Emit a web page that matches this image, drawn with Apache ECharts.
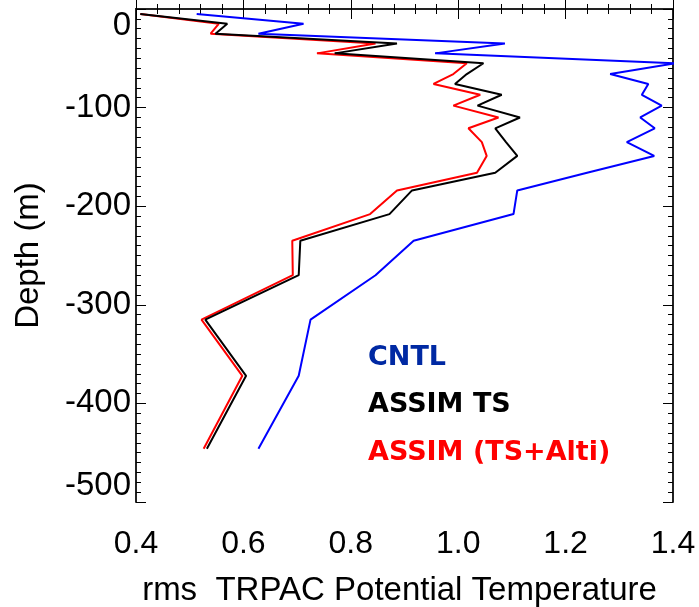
<!DOCTYPE html>
<html>
<head>
<meta charset="utf-8">
<script src="https://cdn.jsdelivr.net/npm/echarts@6/dist/echarts.min.js"></script>
<style>
  html, body { margin: 0; padding: 0; background: #fff; }
  #chart { width: 699px; height: 607px; }
</style>
</head>
<body>
<div id="chart"></div>
<script>
// depth levels (m), shared by the three profiles
var depths = [-5, -15, -25, -35, -45, -55, -66, -76, -87, -98, -110, -121, -135, -149, -166, -184, -208, -235, -270, -315, -372, -446];

// rms potential temperature error for each run
var cntl = [0.513, 0.712, 0.628, 1.087, 0.957, 1.404, 1.283, 1.354, 1.342, 1.379, 1.339, 1.366, 1.314, 1.365, 1.24, 1.11, 1.103, 0.917, 0.846, 0.725, 0.703, 0.628];
var assimTS = [0.408, 0.570, 0.548, 0.886, 0.77, 1.047, 1.016, 0.994, 1.081, 1.036, 1.115, 1.069, 1.089, 1.110, 1.069, 0.914, 0.872, 0.706, 0.703, 0.529, 0.605, 0.532];
var assimAlti = [0.408, 0.554, 0.539, 0.846, 0.737, 1.016, 0.991, 0.954, 1.041, 0.991, 1.075, 1.019, 1.044, 1.053, 1.035, 0.886, 0.836, 0.691, 0.692, 0.522, 0.598, 0.526];

var seriesNames = ["CNTL", "ASSIM TS", "ASSIM (TS+Alti)"];
var lineColors = ["#0000ff", "#000000", "#ff0000"];
var labelColors = ["#0029a3", "#000000", "#ff0000"];

function pairs(vals) {
  return vals.map(function (v, i) { return [v, depths[i]]; });
}

var chart = echarts.init(document.getElementById("chart"));

var axisFont = "'Liberation Sans', Arial, sans-serif";
var tickStyle = { show: true, inside: true, length: 10, lineStyle: { color: "#000", width: 1 } };
var minorStyle = { show: true, length: 5, lineStyle: { color: "#000", width: 1 } };

chart.setOption({
  animation: false,
  backgroundColor: "#fff",
  grid: { left: 136, right: 26, top: 9, bottom: 105, containLabel: false, outerBoundsMode: "none" },
  xAxis: [
    {
      type: "value",
      min: 0.4,
      max: 1.4,
      interval: 0.2,
      position: "bottom",
      name: "rms  TRPAC Potential Temperature",
      nameLocation: "middle",
      nameGap: 72,
      nameTextStyle: { fontFamily: axisFont, fontSize: 33, color: "#000", padding: [0, 10, 0, 0] },
      axisLine: { lineStyle: { color: "#222", width: 2 } },
      axisTick: tickStyle,
      minorTick: Object.assign({ splitNumber: 5 }, minorStyle),
      splitLine: { show: false },
      axisLabel: {
        fontFamily: axisFont,
        fontSize: 32,
        color: "#000",
        margin: 26,
        formatter: function (v) { return v.toFixed(1); }
      }
    },
    {
      type: "value",
      min: 0.4,
      max: 1.4,
      interval: 0.2,
      position: "top",
      axisLine: { lineStyle: { color: "#222", width: 2 } },
      axisTick: tickStyle,
      minorTick: Object.assign({ splitNumber: 5 }, minorStyle),
      splitLine: { show: false },
      axisLabel: { show: false }
    }
  ],
  yAxis: [
    {
      type: "value",
      min: -500,
      max: 0,
      interval: 100,
      position: "left",
      name: "Depth (m)",
      nameLocation: "middle",
      nameRotate: 90,
      nameGap: 91,
      nameTextStyle: { fontFamily: axisFont, fontSize: 33, color: "#000" },
      axisLine: { lineStyle: { color: "#222", width: 2 } },
      axisTick: tickStyle,
      minorTick: Object.assign({ splitNumber: 10 }, minorStyle),
      splitLine: { show: false },
      axisLabel: {
        fontFamily: axisFont,
        fontSize: 33,
        color: "#000",
        margin: 5,
        verticalAlignMaxLabel: "top",
        verticalAlignMinLabel: "bottom"
      }
    },
    {
      type: "value",
      min: -500,
      max: 0,
      interval: 100,
      position: "right",
      axisLine: { lineStyle: { color: "#222", width: 2 } },
      axisTick: tickStyle,
      minorTick: Object.assign({ splitNumber: 10 }, minorStyle),
      splitLine: { show: false },
      axisLabel: { show: false }
    }
  ],
  graphic: seriesNames.map(function (name, i) {
    return {
      type: "text",
      left: 368,
      top: 344 + i * 47.5,
      style: {
        text: name,
        fill: labelColors[i],
        font: "bold 27px 'DejaVu Sans', Verdana, sans-serif"
      }
    };
  }),
  series: [cntl, assimTS, assimAlti].map(function (vals, i) {
    return {
      name: seriesNames[i],
      type: "line",
      xAxisIndex: 0,
      yAxisIndex: 0,
      data: pairs(vals),
      showSymbol: false,
      symbol: "none",
      clip: false,
      lineStyle: { color: lineColors[i], width: 2 },
      z: 3 - i
    };
  })
});
</script>
</body>
</html>
